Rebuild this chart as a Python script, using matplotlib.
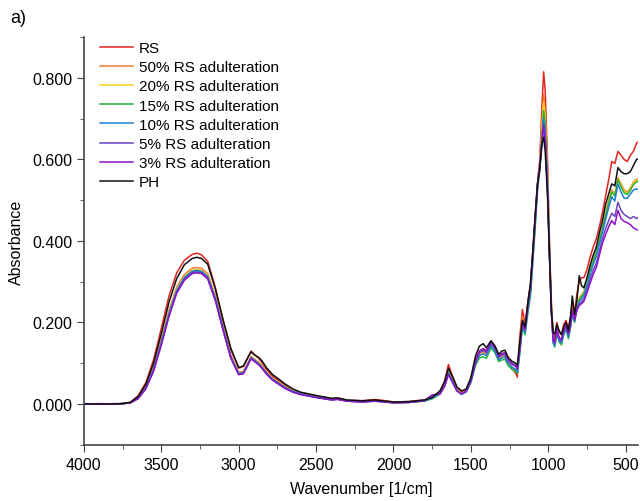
import matplotlib
matplotlib.use('Agg')
import matplotlib.pyplot as plt
from matplotlib.ticker import MultipleLocator, FormatStrFormatter

plt.rcParams['font.family'] = ['Liberation Sans', 'DejaVu Sans']

# wavenumbers [1/cm] at the main features
wavenumber = [
    4000, 3900, 3800, 3750, 3700, 3650, 3600, 3550, 3500, 3450,
    3400, 3350, 3300, 3270, 3240, 3200, 3150, 3100, 3050, 3000,
    2970, 2940, 2920, 2900, 2870, 2850, 2820, 2780, 2740, 2700,
    2650, 2600, 2500, 2400, 2360, 2300, 2200, 2120, 2050, 2000,
    1900, 1800, 1750, 1700, 1670, 1645, 1620, 1590, 1560, 1530,
    1500, 1470, 1445, 1420, 1400, 1370, 1345, 1320, 1300, 1280,
    1260, 1235, 1210, 1200, 1185, 1167, 1150, 1130, 1115, 1100,
    1085, 1070, 1055, 1040, 1030, 1020, 1005, 992, 980, 968,
    958, 945, 930, 915, 900, 885, 870, 855, 845, 830,
    815, 800, 785, 770, 750, 730, 710, 690, 670, 650,
    630, 610, 590, 570, 550, 530, 510, 490, 470, 450,
    430, 410, 400,
]

rs = [
    0.000, 0.000, 0.000, 0.001, 0.004, 0.020, 0.052, 0.108, 0.185, 0.265,
    0.322, 0.353, 0.367, 0.370, 0.366, 0.350, 0.285, 0.205, 0.133, 0.088,
    0.092, 0.115, 0.130, 0.122, 0.112, 0.102, 0.085, 0.068, 0.057, 0.046,
    0.035, 0.028, 0.020, 0.013, 0.014, 0.009, 0.008, 0.011, 0.008, 0.005,
    0.006, 0.010, 0.016, 0.030, 0.055, 0.097, 0.070, 0.040, 0.030, 0.035,
    0.060, 0.108, 0.130, 0.135, 0.130, 0.155, 0.140, 0.115, 0.120, 0.122,
    0.105, 0.088, 0.075, 0.066, 0.160, 0.232, 0.195, 0.255, 0.295, 0.375,
    0.460, 0.540, 0.600, 0.740, 0.815, 0.770, 0.600, 0.390, 0.250, 0.170,
    0.160, 0.200, 0.178, 0.170, 0.195, 0.205, 0.185, 0.215, 0.245, 0.225,
    0.270, 0.300, 0.310, 0.310, 0.330, 0.360, 0.385, 0.405, 0.435, 0.470,
    0.510, 0.550, 0.595, 0.590, 0.620, 0.610, 0.600, 0.595, 0.610, 0.620,
    0.640, 0.645, 0.648,
]

rs50 = [
    0.000, 0.000, 0.000, 0.001, 0.003, 0.016, 0.043, 0.090, 0.158, 0.230,
    0.287, 0.318, 0.333, 0.335, 0.333, 0.320, 0.265, 0.190, 0.120, 0.078,
    0.080, 0.102, 0.117, 0.111, 0.102, 0.094, 0.079, 0.063, 0.053, 0.043,
    0.033, 0.026, 0.018, 0.012, 0.013, 0.008, 0.006, 0.008, 0.006, 0.004,
    0.004, 0.008, 0.014, 0.025, 0.048, 0.085, 0.062, 0.036, 0.027, 0.033,
    0.057, 0.103, 0.124, 0.128, 0.124, 0.148, 0.136, 0.112, 0.117, 0.120,
    0.104, 0.090, 0.083, 0.075, 0.140, 0.215, 0.185, 0.245, 0.285, 0.365,
    0.450, 0.535, 0.590, 0.700, 0.760, 0.720, 0.570, 0.380, 0.240, 0.160,
    0.150, 0.185, 0.162, 0.158, 0.180, 0.192, 0.172, 0.200, 0.230, 0.210,
    0.245, 0.260, 0.268, 0.275, 0.300, 0.330, 0.355, 0.375, 0.405, 0.435,
    0.470, 0.500, 0.525, 0.515, 0.555, 0.540, 0.525, 0.520, 0.530, 0.545,
    0.552, 0.548, 0.545,
]

rs20 = [
    0.000, 0.000, 0.000, 0.001, 0.003, 0.015, 0.041, 0.087, 0.153, 0.225,
    0.282, 0.313, 0.328, 0.330, 0.328, 0.315, 0.261, 0.186, 0.117, 0.076,
    0.078, 0.100, 0.115, 0.109, 0.100, 0.092, 0.077, 0.062, 0.052, 0.042,
    0.032, 0.025, 0.018, 0.011, 0.012, 0.008, 0.006, 0.008, 0.006, 0.004,
    0.004, 0.008, 0.014, 0.025, 0.046, 0.082, 0.060, 0.035, 0.026, 0.032,
    0.055, 0.100, 0.120, 0.124, 0.120, 0.145, 0.133, 0.110, 0.115, 0.118,
    0.102, 0.090, 0.085, 0.078, 0.130, 0.205, 0.180, 0.238, 0.278, 0.360,
    0.445, 0.530, 0.585, 0.680, 0.740, 0.700, 0.560, 0.375, 0.235, 0.155,
    0.146, 0.180, 0.158, 0.154, 0.176, 0.188, 0.168, 0.196, 0.226, 0.206,
    0.240, 0.258, 0.266, 0.274, 0.298, 0.328, 0.352, 0.372, 0.402, 0.432,
    0.466, 0.496, 0.522, 0.512, 0.552, 0.536, 0.522, 0.517, 0.527, 0.542,
    0.550, 0.546, 0.543,
]

rs15 = [
    0.000, 0.000, 0.000, 0.001, 0.003, 0.014, 0.039, 0.084, 0.149, 0.220,
    0.277, 0.309, 0.324, 0.326, 0.324, 0.311, 0.257, 0.183, 0.114, 0.074,
    0.076, 0.098, 0.113, 0.107, 0.098, 0.090, 0.075, 0.060, 0.050, 0.040,
    0.030, 0.024, 0.017, 0.011, 0.012, 0.007, 0.006, 0.007, 0.005, 0.003,
    0.004, 0.007, 0.013, 0.024, 0.044, 0.078, 0.057, 0.033, 0.024, 0.030,
    0.052, 0.095, 0.113, 0.116, 0.112, 0.138, 0.126, 0.104, 0.108, 0.110,
    0.095, 0.085, 0.080, 0.074, 0.120, 0.188, 0.170, 0.228, 0.265, 0.345,
    0.430, 0.520, 0.575, 0.665, 0.720, 0.685, 0.550, 0.370, 0.230, 0.148,
    0.140, 0.175, 0.152, 0.145, 0.170, 0.183, 0.160, 0.190, 0.220, 0.200,
    0.235, 0.255, 0.264, 0.272, 0.296, 0.326, 0.350, 0.370, 0.400, 0.430,
    0.463, 0.493, 0.520, 0.510, 0.550, 0.533, 0.518, 0.514, 0.524, 0.538,
    0.546, 0.543, 0.540,
]

rs10 = [
    0.000, 0.000, 0.000, 0.001, 0.003, 0.014, 0.040, 0.085, 0.150, 0.222,
    0.279, 0.311, 0.326, 0.328, 0.326, 0.313, 0.259, 0.185, 0.116, 0.075,
    0.077, 0.099, 0.114, 0.108, 0.099, 0.091, 0.076, 0.061, 0.051, 0.041,
    0.031, 0.025, 0.017, 0.011, 0.012, 0.008, 0.006, 0.008, 0.006, 0.004,
    0.004, 0.008, 0.014, 0.025, 0.045, 0.076, 0.056, 0.033, 0.024, 0.030,
    0.054, 0.099, 0.119, 0.123, 0.119, 0.143, 0.131, 0.108, 0.113, 0.116,
    0.100, 0.090, 0.085, 0.078, 0.125, 0.195, 0.175, 0.235, 0.275, 0.355,
    0.440, 0.528, 0.580, 0.655, 0.700, 0.665, 0.540, 0.368, 0.228, 0.150,
    0.143, 0.178, 0.155, 0.150, 0.173, 0.186, 0.165, 0.193, 0.224, 0.203,
    0.235, 0.250, 0.258, 0.266, 0.290, 0.318, 0.342, 0.362, 0.392, 0.420,
    0.452, 0.482, 0.508, 0.498, 0.540, 0.520, 0.505, 0.505, 0.515, 0.525,
    0.528, 0.525, 0.522,
]

rs5 = [
    0.000, 0.001, 0.000, 0.001, 0.003, 0.013, 0.038, 0.082, 0.146, 0.217,
    0.274, 0.306, 0.322, 0.324, 0.322, 0.309, 0.255, 0.181, 0.113, 0.073,
    0.075, 0.097, 0.112, 0.106, 0.097, 0.089, 0.074, 0.059, 0.049, 0.039,
    0.030, 0.024, 0.016, 0.010, 0.012, 0.007, 0.005, 0.007, 0.005, 0.003,
    0.004, 0.008, 0.022, 0.025, 0.044, 0.074, 0.055, 0.032, 0.024, 0.031,
    0.056, 0.103, 0.126, 0.131, 0.126, 0.148, 0.137, 0.114, 0.120, 0.122,
    0.107, 0.097, 0.092, 0.085, 0.130, 0.200, 0.180, 0.245, 0.285, 0.365,
    0.450, 0.535, 0.585, 0.650, 0.690, 0.655, 0.530, 0.365, 0.226, 0.155,
    0.148, 0.183, 0.160, 0.155, 0.178, 0.190, 0.170, 0.198, 0.228, 0.205,
    0.232, 0.245, 0.250, 0.258, 0.280, 0.305, 0.328, 0.345, 0.375, 0.405,
    0.430, 0.450, 0.468, 0.460, 0.495, 0.475, 0.465, 0.460, 0.455, 0.460,
    0.455, 0.460, 0.458,
]

rs3 = [
    0.001, 0.000, 0.001, 0.001, 0.003, 0.013, 0.037, 0.080, 0.144, 0.215,
    0.272, 0.304, 0.320, 0.322, 0.320, 0.307, 0.253, 0.180, 0.112, 0.072,
    0.074, 0.096, 0.111, 0.105, 0.096, 0.088, 0.073, 0.058, 0.048, 0.038,
    0.029, 0.023, 0.016, 0.010, 0.011, 0.007, 0.005, 0.007, 0.005, 0.003,
    0.004, 0.008, 0.022, 0.025, 0.043, 0.072, 0.054, 0.032, 0.025, 0.032,
    0.058, 0.106, 0.130, 0.136, 0.130, 0.152, 0.140, 0.118, 0.124, 0.126,
    0.110, 0.100, 0.095, 0.088, 0.135, 0.205, 0.185, 0.250, 0.290, 0.370,
    0.455, 0.538, 0.585, 0.645, 0.680, 0.645, 0.525, 0.360, 0.224, 0.158,
    0.152, 0.186, 0.163, 0.158, 0.181, 0.193, 0.173, 0.201, 0.231, 0.208,
    0.230, 0.242, 0.246, 0.252, 0.273, 0.296, 0.318, 0.335, 0.365, 0.395,
    0.415, 0.435, 0.450, 0.440, 0.475, 0.455, 0.448, 0.445, 0.440, 0.432,
    0.428, 0.425, 0.424,
]

ph = [
    0.000, 0.000, 0.000, 0.001, 0.004, 0.018, 0.048, 0.100, 0.172, 0.250,
    0.308, 0.342, 0.357, 0.360, 0.357, 0.343, 0.282, 0.205, 0.136, 0.090,
    0.093, 0.114, 0.128, 0.121, 0.114, 0.106, 0.089, 0.072, 0.061, 0.049,
    0.037, 0.029, 0.021, 0.014, 0.015, 0.010, 0.008, 0.010, 0.007, 0.005,
    0.006, 0.010, 0.016, 0.032, 0.055, 0.088, 0.068, 0.042, 0.032, 0.037,
    0.065, 0.118, 0.142, 0.148, 0.138, 0.155, 0.143, 0.122, 0.130, 0.132,
    0.115, 0.105, 0.100, 0.095, 0.150, 0.205, 0.190, 0.255, 0.295, 0.375,
    0.460, 0.540, 0.575, 0.640, 0.655, 0.620, 0.510, 0.360, 0.230, 0.175,
    0.172, 0.195, 0.180, 0.170, 0.190, 0.200, 0.180, 0.220, 0.265, 0.220,
    0.255, 0.315, 0.290, 0.285, 0.310, 0.340, 0.365, 0.385, 0.420, 0.450,
    0.490, 0.515, 0.540, 0.535, 0.580, 0.570, 0.565, 0.565, 0.570, 0.585,
    0.600, 0.602, 0.600,
]

labels = ['RS', '50% RS adulteration', '20% RS adulteration', '15% RS adulteration',
          '10% RS adulteration', '5% RS adulteration', '3% RS adulteration', 'PH']
colors = ['#e32421', '#ef7d2c', '#f7d21c', '#27b33a', '#1f7fd6', '#6a44bd', '#8b14c9', '#111111']
series = [rs, rs50, rs20, rs15, rs10, rs5, rs3, ph]

fig = plt.figure(figsize=(6.4, 5.02), dpi=100)
ax = fig.add_axes([0.131, 0.112, 0.866, 0.812])

for y, lab, c in zip(series, labels, colors):
    ax.plot(wavenumber, y, color=c, lw=1.1, label=lab)

ax.set_xlim(4000, 420)
ax.set_ylim(-0.1, 0.9)
ax.xaxis.set_major_locator(MultipleLocator(500))
ax.xaxis.set_minor_locator(MultipleLocator(250))
ax.yaxis.set_major_locator(MultipleLocator(0.2))
ax.yaxis.set_minor_locator(MultipleLocator(0.1))
ax.yaxis.set_major_formatter(FormatStrFormatter('%.3f'))
ax.tick_params(which='both', direction='out', labelsize=11.5, color='#444444')
ax.tick_params(which='major', length=5)
ax.tick_params(which='minor', length=3)
for s in ['top', 'right']:
    ax.spines[s].set_visible(False)
for s in ['left', 'bottom']:
    ax.spines[s].set_color('#444444')
    ax.spines[s].set_linewidth(1.2)

ax.set_xlabel('Wavenumber [1/cm]', fontsize=11.5, labelpad=7)
ax.set_ylabel('Absorbance', fontsize=11.5, labelpad=6)

ax.legend(loc='upper left', bbox_to_anchor=(0.009, 1.017), frameon=False, fontsize=11,
          handlelength=2.2, handletextpad=0.4, labelspacing=0.34, borderaxespad=0.3)

fig.text(0.016, 0.955, 'a)', fontsize=13)

fig.savefig('out.png', dpi=100)
